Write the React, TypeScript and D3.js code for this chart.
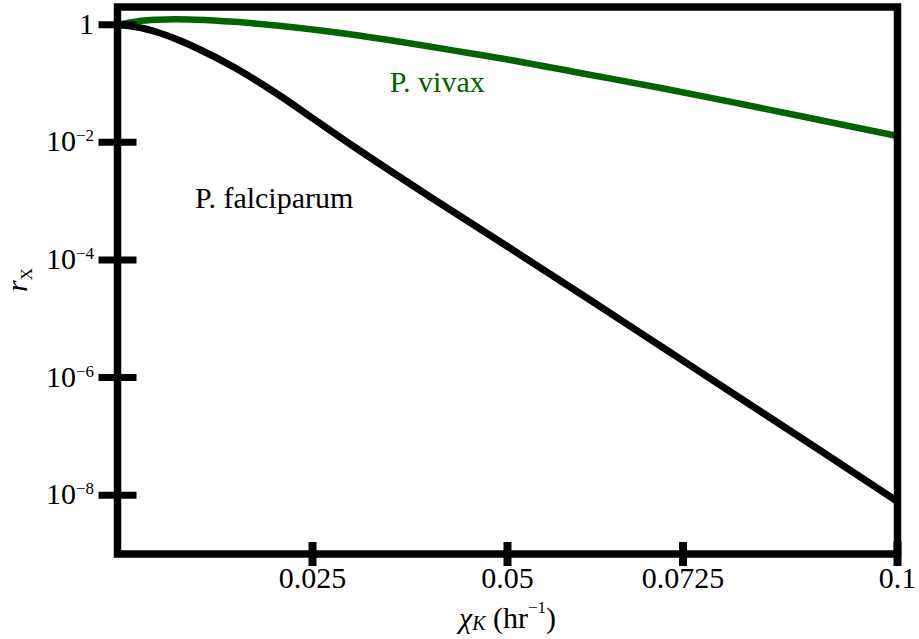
import { curveMonotoneX, line, scaleLinear, scaleLog, select } from "d3";
import React, { useEffect, useRef } from "react";

// chi_K (per hour) sample points
const chi = [
  0, 0.0025, 0.005, 0.0075, 0.01, 0.015, 0.02, 0.025, 0.03, 0.035, 0.04, 0.045, 0.05, 0.06, 0.07, 0.08, 0.09, 0.1,
];
const vivax = [
  1, 1.14, 1.21, 1.235, 1.216, 1.12, 0.977, 0.829, 0.681, 0.543, 0.426, 0.33, 0.256, 0.145, 0.0822, 0.0448, 0.024,
  0.0128,
];
const falciparum = [
  1, 0.914, 0.751, 0.571, 0.41, 0.187, 0.0731, 0.0259, 0.009, 0.00325, 0.0012, 4.51e-4, 1.69e-4, 2.34e-5, 3.18e-6,
  4.32e-7, 5.86e-8, 7.81e-9,
];

const xTicks = [0.025, 0.05, 0.0725, 0.1];
const xTickLabels = ["0.025", "0.05", "0.0725", "0.1"];
const yTicks = [1, 1e-2, 1e-4, 1e-6, 1e-8];
const yTickExps = [0, -2, -4, -6, -8];

const W = 919;
const H = 639;
const GREEN = "#006400";
const FONT =
  '"Liberation Serif", "LiberationSerif", "Liberation Serif Regular", "DejaVu Serif", "Noto Serif", "Tinos", "Times New Roman", Times, serif';

function RxChart() {
  const gRef = useRef(null);

  const x = scaleLinear().domain([0, 0.1]).range([117.5, 897.5]);
  const y = scaleLog().domain([1e-9, 2]).range([554, 7]);
  const [x0, x1] = x.range();
  const [yb, yt] = y.range();

  useEffect(() => {
    const g = select(gRef.current);
    const lineGen = line()
      .x((d) => x(d[0]))
      .y((d) => y(d[1]))
      .curve(curveMonotoneX);

    const series = [
      { vals: falciparum, color: "black", width: 7 },
      { vals: vivax, color: GREEN, width: 6.5 },
    ];

    g.selectAll(".curve")
      .data(series)
      .join("path")
      .attr("class", "curve")
      .attr("fill", "none")
      .attr("stroke", (s) => s.color)
      .attr("stroke-width", (s) => s.width)
      .attr("d", (s) => lineGen(chi.map((c, i) => [c, s.vals[i]])));
  });

  return (
    <svg
      width={W}
      height={H}
      style={{ position: "absolute", left: 0, top: 0, background: "white", fontFamily: FONT }}
    >
      <g ref={gRef} />

      {/* frame */}
      <rect x={x0} y={yt} width={x1 - x0} height={yb - yt} fill="none" stroke="black" strokeWidth={7.5} />

      {/* y ticks */}
      {yTicks.map((t, i) => (
        <g key={"y" + i}>
          <line x1={x0 - 19} x2={x0 + 19} y1={y(t)} y2={y(t)} stroke="black" strokeWidth={7} />
          <text x={94} y={y(t) + 9} fontSize={30} textAnchor="end">
            {yTickExps[i] === 0 ? (
              "1"
            ) : (
              <>
                10
                <tspan fontSize={17} dy={-10}>
                  {"\u2212" + Math.abs(yTickExps[i])}
                </tspan>
              </>
            )}
          </text>
        </g>
      ))}

      {/* x ticks */}
      {xTicks.map((t, i) => (
        <g key={"x" + i}>
          <line x1={x(t)} x2={x(t)} y1={yb - 12} y2={yb + 12} stroke="black" strokeWidth={8} />
          <text x={x(t)} y={588} fontSize={30} textAnchor="middle">
            {xTickLabels[i]}
          </text>
        </g>
      ))}

      {/* axis titles */}
      <text x={x(0.05)} y={628} fontSize={30} textAnchor="middle">
        <tspan fontStyle="italic">χ</tspan>
        <tspan fontStyle="italic" fontSize={20} dy={2}>
          K
        </tspan>
        <tspan dy={-2}> (hr</tspan>
        <tspan fontSize={17} dy={-15}>
          −1
        </tspan>
        <tspan dy={15}>)</tspan>
      </text>
      <text transform="translate(27,280) rotate(-90)" fontSize={30} textAnchor="middle">
        <tspan fontStyle="italic">r</tspan>
        <tspan fontSize={17} dy={5}>
          X
        </tspan>
      </text>

      {/* series labels */}
      <text x={x(0.0349)} y={y(0.0718)} fontSize={30} fill={GREEN}>
        P. vivax
      </text>
      <text x={x(0.00994)} y={y(7.6e-4)} fontSize={30} fill="black">
        P. falciparum
      </text>
    </svg>
  );
}

export default function App() {
  return <RxChart />;
}
